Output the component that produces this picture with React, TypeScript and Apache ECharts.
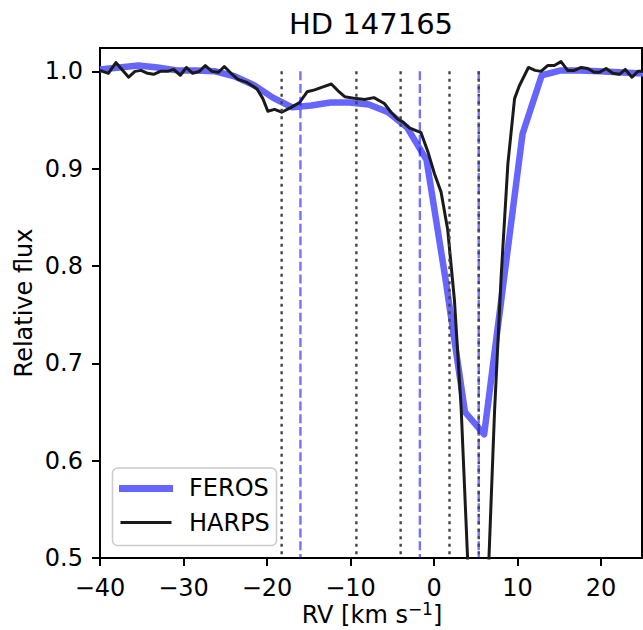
import { useEffect, useRef } from "react";
import * as echarts from "echarts";

// ---- data ----
const ferosRV = [-40.0, -37.7, -35.4, -33.1, -30.8, -28.5, -26.2, -23.9, -21.6, -19.3, -17.0, -14.7, -12.4, -10.1, -7.8, -5.5, -3.2, -0.9, 1.4, 3.7, 6.0, 8.3, 10.6, 12.9, 15.2, 17.5, 19.8, 22.1, 24.4, 26.7];
const ferosFlux = [1.002, 1.004, 1.006, 1.004, 1.001, 1.001, 1.0, 0.995, 0.986, 0.973, 0.963, 0.965, 0.968, 0.968, 0.966, 0.958, 0.942, 0.909, 0.785, 0.65, 0.627, 0.782, 0.936, 0.996, 1.001, 1.001, 1.0, 0.999, 0.998, 0.998];

const harpsRV = [-40.0, -39.0, -38.1, -36.57, -35.81, -35.09, -34.3, -33.58, -32.78, -31.9, -31.18, -30.38, -29.66, -28.9, -28.1, -27.39, -26.59, -25.83, -25.11, -24.31, -23.52, -22.5, -21.9, -21.2, -20.5, -19.9, -19.1, -18.25, -17.1, -16.1, -15.2, -14.3, -13.3, -12.3, -11.5, -10.7, -9.3, -8.3, -7.2, -5.95, -5.15, -4.36, -3.76, -2.96, -1.56, -0.76, 0.04, 0.84, 1.64, 2.44, 3.24, 4.04, 4.84, 5.64, 6.44, 7.24, 8.04, 8.84, 9.64, 10.2, 11.3, 12.1, 12.8, 13.6, 14.4, 15.2, 16.0, 16.8, 17.6, 18.4, 19.2, 19.8, 20.6, 21.4, 22.2, 22.9, 23.7, 24.4, 25.2];
const harpsFlux = [1.001, 0.998, 1.009, 0.994, 1.0, 1.001, 0.998, 0.997, 1.0, 1.0, 1.002, 0.996, 1.004, 0.998, 1.0, 1.006, 1.0, 0.999, 1.005, 0.998, 0.992, 0.989, 0.986, 0.982, 0.972, 0.959, 0.961, 0.958, 0.963, 0.968, 0.979, 0.981, 0.984, 0.987, 0.98, 0.974, 0.972, 0.971, 0.973, 0.967, 0.958, 0.951, 0.948, 0.942, 0.937, 0.918, 0.895, 0.876, 0.837, 0.765, 0.655, 0.495, 0.34, 0.3, 0.47, 0.65, 0.79, 0.905, 0.972, 0.985, 1.004, 1.001, 1.0, 1.006, 1.006, 1.01, 1.001, 1.001, 1.004, 1.003, 0.999, 0.999, 1.003, 0.998, 0.997, 1.002, 0.994, 1.0, 1.0];

const dottedRV = [-18.25, -9.3, -4.0, 1.85, 5.35];
const dashedRV = [-16.0, -1.7, 5.35];
const vlineSpan = [1.0, 0.5];

const xTicks = [-40, -30, -20, -10, 0, 10, 20];
const yTicks = [0.5, 0.6, 0.7, 0.8, 0.9, 1.0];

const titleText = "HD 147165";
const xNameMain = "RV [km s";
const xNameSup = "\u22121";
const xNameEnd = "]";
const yName = "Relative flux";
const legendNames = ["FEROS", "HARPS"];

const FONT = "DejaVu Sans";

export default function App() {
  const ref = useRef<HTMLDivElement>(null);
  useEffect(() => {
    if (!ref.current) return;
    const chart = echarts.init(ref.current, null, { renderer: "svg" });
    const pair = (xs: number[], ys: number[]) => xs.map((x, i) => [x, ys[i]]);
    const vline = (v: number, style: any) => ({
      type: "line",
      data: vlineSpan.map((y) => [v, y]),
      symbol: "none",
      silent: true,
      lineStyle: style,
      z: 4,
    });
    const dottedStyle = { color: "#444444", width: 2.4, type: [2.8, 4.7], cap: "butt" };
    const dashedStyle = { color: "rgba(0,0,255,0.55)", width: 2.4, type: [8.9, 3.8], cap: "butt" };
    chart.setOption({
      animation: false,
      grid: {
        left: 100,
        top: 48,
        width: 542,
        height: 510,
        show: true,
        borderColor: "#000",
        borderWidth: 2,
        backgroundColor: "transparent",
      },
      xAxis: {
        type: "value",
        min: -40,
        max: 24.9,
        interval: 10,
        axisLine: { show: true, onZero: false, lineStyle: { color: "#000", width: 2 } },
        axisTick: { show: true, length: 8, lineStyle: { color: "#000", width: 2 }, customValues: xTicks },
        axisLabel: {
          customValues: xTicks,
          fontSize: 24,
          fontFamily: FONT,
          color: "#000",
          margin: 18,
          formatter: (v: number) => (v < 0 ? "\u2212" + Math.abs(v) : String(v)),
        },
        splitLine: { show: false },
      },
      yAxis: {
        type: "value",
        min: 0.5,
        max: 1.024,
        interval: 0.1,
        axisLine: { show: true, onZero: false, lineStyle: { color: "#000", width: 2 } },
        axisTick: { show: true, length: 8, lineStyle: { color: "#000", width: 2 }, customValues: yTicks },
        axisLabel: {
          customValues: yTicks,
          fontSize: 24,
          fontFamily: FONT,
          color: "#000",
          margin: 17,
          formatter: (v: number) => v.toFixed(1),
        },
        splitLine: { show: false },
      },
      series: [
        {
          name: legendNames[0],
          type: "line",
          data: pair(ferosRV, ferosFlux),
          symbol: "none",
          clip: true,
          lineStyle: { color: "#6666ff", width: 6.5, join: "round", cap: "butt" },
          z: 2,
        },
        {
          name: legendNames[1],
          type: "line",
          data: pair(harpsRV, harpsFlux),
          symbol: "none",
          clip: true,
          lineStyle: { color: "#1a1a1a", width: 3, join: "round", cap: "butt" },
          z: 3,
        },
        ...dashedRV.map((v) => vline(v, dashedStyle)),
        ...dottedRV.map((v) => vline(v, dottedStyle)),
      ],
      graphic: [
        {
          type: "text",
          x: 371,
          y: 24,
          style: { text: titleText, fontSize: 29, fontFamily: FONT, fill: "#000", align: "center", verticalAlign: "middle" },
        },
        {
          type: "text",
          x: 372,
          y: 614.5,
          style: {
            text: "{n|" + xNameMain + "}{s|" + xNameSup + "}{n|" + xNameEnd + "}",
            align: "center",
            verticalAlign: "middle",
            rich: {
              n: { fontSize: 24, fontFamily: FONT, fill: "#000", lineHeight: 29, verticalAlign: "middle" },
              s: { fontSize: 17, fontFamily: FONT, fill: "#000", lineHeight: 17, verticalAlign: "top" },
            },
          },
        },
        {
          type: "text",
          x: 24,
          y: 303,
          rotation: Math.PI / 2,
          style: { text: yName, fontSize: 24, fontFamily: FONT, fill: "#000", align: "center", verticalAlign: "middle" },
        },
        {
          type: "rect",
          z: 10,
          shape: { x: 112.5, y: 468, width: 164, height: 77.5, r: 5 },
          style: { fill: "rgba(255,255,255,0.8)", stroke: "#cccccc", lineWidth: 1.5 },
        },
        {
          type: "line",
          z: 11,
          shape: { x1: 119, y1: 488.5, x2: 173, y2: 488.5 },
          style: { stroke: "#6666ff", lineWidth: 7 },
        },
        {
          type: "line",
          z: 11,
          shape: { x1: 120.5, y1: 522.5, x2: 171.5, y2: 522.5 },
          style: { stroke: "#1a1a1a", lineWidth: 3 },
        },
        {
          type: "text",
          z: 11,
          x: 189,
          y: 488,
          style: { text: legendNames[0], fontSize: 24, fontFamily: FONT, fill: "#000", align: "left", verticalAlign: "middle" },
        },
        {
          type: "text",
          z: 11,
          x: 189,
          y: 522.5,
          style: { text: legendNames[1], fontSize: 24, fontFamily: FONT, fill: "#000", align: "left", verticalAlign: "middle" },
        },
      ],
    });
    return () => chart.dispose();
  }, []);
  return <div ref={ref} style={{ position: "absolute", left: 0, top: 0, width: 643, height: 630 }} />;
}
